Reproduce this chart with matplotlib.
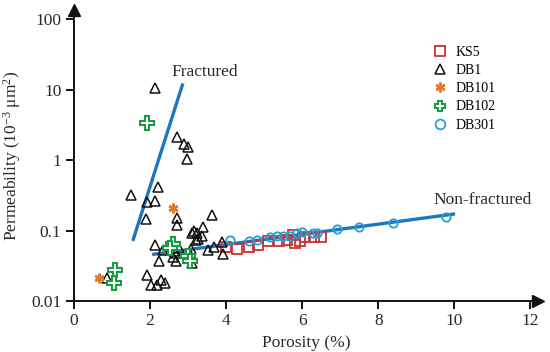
import matplotlib
matplotlib.use("Agg")
import matplotlib.pyplot as plt
import numpy as np
from matplotlib.ticker import FixedLocator, FixedFormatter, NullLocator

plt.rcParams['font.family'] = ['Liberation Serif', 'DejaVu Serif']
plt.rcParams['mathtext.fontset'] = 'custom'
plt.rcParams['mathtext.rm'] = 'Liberation Serif'
plt.rcParams['mathtext.it'] = 'Liberation Serif:italic'

# ---- data ----
ks5_x = [4.0, 4.3, 4.6, 4.85, 5.1, 5.4, 5.6, 5.77, 5.8, 5.95, 6.08, 6.3, 6.5]
ks5_y = [0.058, 0.055, 0.058, 0.062, 0.070, 0.072, 0.073, 0.086, 0.066, 0.072, 0.080, 0.082, 0.080]

db1_x = [2.13, 2.71, 2.89, 3.00, 2.97, 1.49, 2.22, 1.93, 2.12, 1.89, 2.72, 2.72, 3.62,
         3.40, 3.16, 3.23, 3.10, 3.36, 3.25, 3.20, 2.13, 2.35, 2.75, 3.07, 3.53, 3.67,
         3.89, 3.93, 2.23, 2.61, 2.68, 3.10, 1.93, 2.02, 2.19, 2.28, 2.40, 0.86, 2.62,
         2.68, 3.05]
db1_y = [10.5, 2.1, 1.69, 1.53, 1.03, 0.32, 0.42, 0.25, 0.26, 0.144, 0.149, 0.119, 0.166,
         0.113, 0.099, 0.093, 0.091, 0.084, 0.075, 0.074, 0.062, 0.053, 0.056, 0.055, 0.053, 0.058,
         0.068, 0.046, 0.037, 0.042, 0.037, 0.035, 0.023, 0.017, 0.017, 0.020, 0.018, 0.021, 0.052,
         0.048, 0.046]

db101_x = [0.67, 2.61]
db101_y = [0.021, 0.21]

db102_x = [1.91, 2.61, 2.52, 3.00, 3.05, 1.08, 1.05]
db102_y = [3.38, 0.065, 0.057, 0.043, 0.037, 0.0275, 0.018]

db301_x = [4.10, 4.59, 4.82, 5.16, 5.33, 5.49, 5.68, 5.86, 6.00, 6.28, 6.40, 6.91, 7.50, 8.39, 9.78]
db301_y = [0.073, 0.072, 0.073, 0.082, 0.084, 0.084, 0.084, 0.091, 0.095, 0.093, 0.093, 0.104, 0.111, 0.129, 0.154]

fract_x = [1.56, 2.85]
fract_y = [0.075, 11.6]
nonfract_x = [2.10, 9.98]
nonfract_y = [0.046, 0.171]

yticks = [0.01, 0.1, 1, 10, 100]
ytick_labels = ["0.01", "0.1", "1", "10", "100"]
xticks = [0, 2, 4, 6, 8, 10, 12]

# ---- figure ----
fig = plt.figure(figsize=(5.5, 3.52), dpi=100)
ax = fig.add_axes([0.1345, 0.145, 0.978 - 0.1345, 0.8267])
ax.set_yscale('log')
ax.set_xlim(0, 12.2)
ax.set_ylim(0.01, 10 ** 2.13)

line_c = '#1a78bf'
ax.plot(fract_x, fract_y, color=line_c, lw=2.4, zorder=3)
ax.plot(nonfract_x, nonfract_y, color=line_c, lw=2.4, zorder=3)

ax.plot(ks5_x, ks5_y, ls='none', marker='s', ms=7.5, mfc='none', mec='#cc3333', mew=1.3,
        label='KS5', zorder=4)
ax.plot(db1_x, db1_y, ls='none', marker='^', ms=7.5, mfc='none', mec='#111111', mew=1.1,
        label='DB1', zorder=4)
ax.plot(db101_x, db101_y, ls='none', marker=(6, 2, 0), ms=7, mfc='none', mec='#e07b28', mew=1.8,
        label='DB101', zorder=4)
ax.plot(db102_x, db102_y, ls='none', marker='P', ms=9.5, mfc='white', mec='#1e9a47', mew=1.5,
        label='DB102', zorder=5)
ax.plot(db301_x, db301_y, ls='none', marker='o', ms=6, mfc='none', mec='#2a9fd3', mew=1.3,
        label='DB301', zorder=4)

ax.text(3.43, 17.7, 'Fractured', fontsize=12.5, color='#2a2a2a', ha='center', va='center')
ax.text(10.75, 0.27, 'Non-fractured', fontsize=12.5, color='#2a2a2a', ha='center', va='center')

# axes styling
for s in ['top', 'right']:
    ax.spines[s].set_visible(False)
for s in ['left', 'bottom']:
    ax.spines[s].set_linewidth(1.4)
    ax.spines[s].set_color('#111111')

ax.yaxis.set_major_locator(FixedLocator(yticks))
ax.yaxis.set_major_formatter(FixedFormatter(ytick_labels))
ax.yaxis.set_minor_locator(NullLocator())
ax.set_xticks(xticks)
ax.tick_params(axis='both', direction='out', length=6, width=1.4, labelsize=12.5,
               color='#111111', labelcolor='#2a2a2a', pad=3)

ax.set_xlabel('Porosity (%)', fontsize=12.5, color='#2a2a2a', labelpad=4)
ax.set_ylabel(r'Permeability ($\mathregular{10^{-3}\ \mu m^{2}}$)', fontsize=12.5,
              color='#2a2a2a', labelpad=6)

# arrows on axes
ax.plot([0], [1], marker='^', ms=9, color='#111111', transform=ax.transAxes, clip_on=False)
ax.plot([1], [0], marker='>', ms=9, color='#111111', transform=ax.transAxes, clip_on=False)

leg = ax.legend(loc='upper left', bbox_to_anchor=(0.763, 0.895), frameon=False, fontsize=10,
                handletextpad=0.55, labelspacing=0.37, handlelength=1.0, borderaxespad=0)
for h in leg.legend_handles:
    h.set_markersize(7)

fig.savefig('out.png', dpi=100)
